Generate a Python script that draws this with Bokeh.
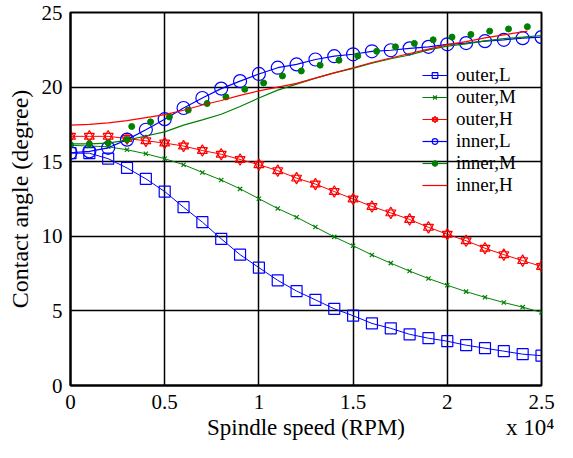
from bokeh.plotting import figure
from bokeh.embed import file_html
from bokeh.resources import INLINE
from bokeh.models import Legend, LegendItem, FixedTicker, LinearAxis

# ---------------- data ----------------
rpm = [0, 1000, 2000, 3000, 4000, 5000, 6000, 7000, 8000, 9000, 10000, 11000, 12000,
       13000, 14000, 15000, 16000, 17000, 18000, 19000, 20000, 21000, 22000, 23000, 24000, 25000]

outer_L = [15.57, 15.57, 15.2, 14.58, 13.85, 13.0, 11.95, 10.95, 9.83, 8.77, 7.9, 7.05, 6.33,
           5.74, 5.14, 4.68, 4.16, 3.83, 3.43, 3.17, 2.97, 2.7, 2.5, 2.3, 2.1, 2.0]
outer_M = [16.1, 16.05, 16.0, 15.8, 15.53, 15.2, 14.8, 14.28, 13.77, 13.18, 12.52, 11.86, 11.28,
           10.62, 9.96, 9.37, 8.75, 8.2, 7.67, 7.17, 6.72, 6.29, 5.91, 5.56, 5.25, 4.9]
outer_H = [16.7, 16.7, 16.7, 16.55, 16.4, 16.25, 16.05, 15.75, 15.5, 15.15, 14.8, 14.4, 13.9,
           13.5, 13.0, 12.5, 12.0, 11.57, 11.13, 10.6, 10.14, 9.7, 9.2, 8.77, 8.37, 7.98]
inner_L = [15.6, 15.69, 15.93, 16.48, 17.14, 17.85, 18.6, 19.27, 19.9, 20.4, 20.88, 21.3, 21.52,
           21.85, 22.07, 22.2, 22.4, 22.47, 22.6, 22.7, 22.87, 22.95, 23.08, 23.17, 23.28, 23.35]

# inner,M: smooth curve plus measured dots
inner_M_line = [16.2, 16.2, 16.25, 16.45, 16.72, 17.0, 17.45, 17.8, 18.18, 18.7, 19.27, 19.8, 20.2,
                20.6, 20.95, 21.25, 21.6, 21.9, 22.15, 22.5, 22.75, 22.9, 23.1, 23.25, 23.35, 23.46]
inner_M_dot_rpm = [0, 1000, 2000, 3000, 3250, 4250, 5250, 6250, 7250, 8250, 9250, 10250, 11250,
                   12250, 13250, 14250, 15250, 16250, 17250, 18250, 19250, 20250, 21250, 22250,
                   23250, 24250]
inner_M_dot = [16.15, 16.2, 16.26, 16.48, 17.36, 17.67, 18.0, 18.46, 18.9, 19.34, 19.85, 20.28,
               20.75, 21.08, 21.47, 21.8, 22.09, 22.4, 22.7, 22.93, 23.17, 23.35, 23.53, 23.75,
               23.9, 24.05]

# inner,H: smooth curve
inner_H_rpm = [0, 1000, 2000, 3000, 4000, 5000, 6000, 7000, 8000, 9000, 10000, 11000, 12000,
               13000, 14000, 15000, 16000, 17000, 18000, 19000, 20000, 21000, 22000, 23000, 24000, 24250]
inner_H = [17.45, 17.5, 17.6, 17.75, 17.95, 18.15, 18.45, 18.8, 19.1, 19.45, 19.75, 20.0, 20.25,
           20.6, 20.95, 21.3, 21.65, 21.95, 22.25, 22.55, 22.85, 23.05, 23.3, 23.5, 23.7, 23.75]

x_ticks = [0, 5000, 10000, 15000, 20000, 25000]
x_tick_labels = ["0", "0.5", "1", "1.5", "2", "2.5"]
y_ticks = [0, 5, 10, 15, 20, 25]

x_title = "Spindle speed (RPM)"
x_scale_note = "x 10\u2074"
y_title = "Contact angle (degree)"

# ---------------- figure ----------------
FONT = "Liberation Serif"
BLUE, GREEN, RED = "#0000FF", "#008000", "#FF0000"

p = figure(width=557, height=442, x_range=(0, 25000), y_range=(0, 25),
           output_backend="svg", toolbar_location=None,
           min_border_left=70, min_border_right=16, min_border_top=12, min_border_bottom=57)
p.background_fill_color = "white"
p.border_fill_color = "white"
p.outline_line_color = "black"
p.outline_line_width = 2

for ax in (p.xaxis[0], p.yaxis[0]):
    ax.axis_line_color = "black"
    ax.axis_line_width = 2
    ax.major_tick_in = 0
    ax.major_tick_out = 0
    ax.minor_tick_line_color = None
    ax.major_label_text_font = FONT
    ax.major_label_text_font_size = "21px"
    ax.major_label_text_color = "black"
    ax.major_label_text_line_height = 1.0
    ax.axis_label_text_font = FONT
    ax.axis_label_text_font_size = "24px"
    ax.axis_label_text_font_style = "normal"
    ax.axis_label_text_color = "black"

p.xaxis.ticker = FixedTicker(ticks=x_ticks)
p.xaxis.major_label_overrides = {t: l for t, l in zip(x_ticks, x_tick_labels)}
p.yaxis.ticker = FixedTicker(ticks=y_ticks)
p.xaxis.major_label_standoff = 9
p.yaxis.major_label_standoff = 8
p.yaxis.axis_label = y_title
p.yaxis.axis_label_standoff = 6

# second row below the x axis: title in the middle, scale note at the right end
title_pos = (x_ticks[0] + x_ticks[-1]) / 2
note_pos = x_ticks[-1] * 0.976
xlab_axis = LinearAxis(ticker=FixedTicker(ticks=[title_pos, note_pos]),
                       major_label_overrides={title_pos: x_title, note_pos: x_scale_note},
                       axis_line_color=None, major_tick_line_color=None,
                       minor_tick_line_color=None, major_tick_in=0, major_tick_out=0,
                       major_label_standoff=3, major_label_text_font=FONT,
                       major_label_text_font_size="23px", major_label_text_color="black",
                       major_label_text_line_height=1.0)
p.add_layout(xlab_axis, "below")

p.xgrid.ticker = FixedTicker(ticks=x_ticks)
p.ygrid.ticker = FixedTicker(ticks=y_ticks)
for g in (p.xgrid[0], p.ygrid[0]):
    g.grid_line_color = "black"
    g.grid_line_width = 1.5
    g.grid_line_alpha = 1.0

# ---------------- series ----------------
r_oL_l = p.line(rpm, outer_L, line_color=BLUE, line_width=1)
r_oL_m = p.scatter(rpm, outer_L, marker="square", size=11, fill_color=None,
                   line_color=BLUE, line_width=1.2)

r_oM_l = p.line(rpm, outer_M, line_color=GREEN, line_width=1)
r_oM_m = p.scatter(rpm, outer_M, marker="x", size=6, line_color=GREEN, line_width=1.2)

r_oH_l = p.line(rpm, outer_H, line_color=RED, line_width=1)
r_oH_m1 = p.scatter(rpm, outer_H, marker="triangle", size=10, fill_color=None,
                    line_color=RED, line_width=1.2)
r_oH_m2 = p.scatter(rpm, outer_H, marker="inverted_triangle", size=10, fill_color=None,
                    line_color=RED, line_width=1.2)

r_iL_l = p.line(rpm, inner_L, line_color=BLUE, line_width=1.2)
r_iL_m = p.scatter(rpm, inner_L, marker="circle", size=13, fill_color=None,
                   line_color=BLUE, line_width=1.2)

r_iM_l = p.line(rpm, inner_M_line, line_color=GREEN, line_width=1.2)
r_iM_m = p.scatter(inner_M_dot_rpm, inner_M_dot, marker="circle", size=6,
                   fill_color=GREEN, line_color=GREEN)

r_iH_l = p.line(inner_H_rpm, inner_H, line_color=RED, line_width=1.2)

legend = Legend(items=[
    LegendItem(label="outer,L", renderers=[r_oL_l, r_oL_m]),
    LegendItem(label="outer,M", renderers=[r_oM_l, r_oM_m]),
    LegendItem(label="outer,H", renderers=[r_oH_l, r_oH_m1, r_oH_m2]),
    LegendItem(label="inner,L", renderers=[r_iL_l, r_iL_m]),
    LegendItem(label="inner,M", renderers=[r_iM_l, r_iM_m]),
    LegendItem(label="inner,H", renderers=[r_iH_l]),
], location=(352, 189))
legend.background_fill_alpha = 0
legend.border_line_color = None
legend.label_text_font = FONT
legend.label_text_font_size = "19px"
legend.label_text_color = "black"
legend.label_text_line_height = 0.85
legend.glyph_width = 25
legend.glyph_height = 14
legend.label_height = 14
legend.label_standoff = 9
legend.spacing = 0
legend.padding = 0
legend.margin = 0
p.add_layout(legend, "center")

open("out.html", "w").write(file_html(p, INLINE))
